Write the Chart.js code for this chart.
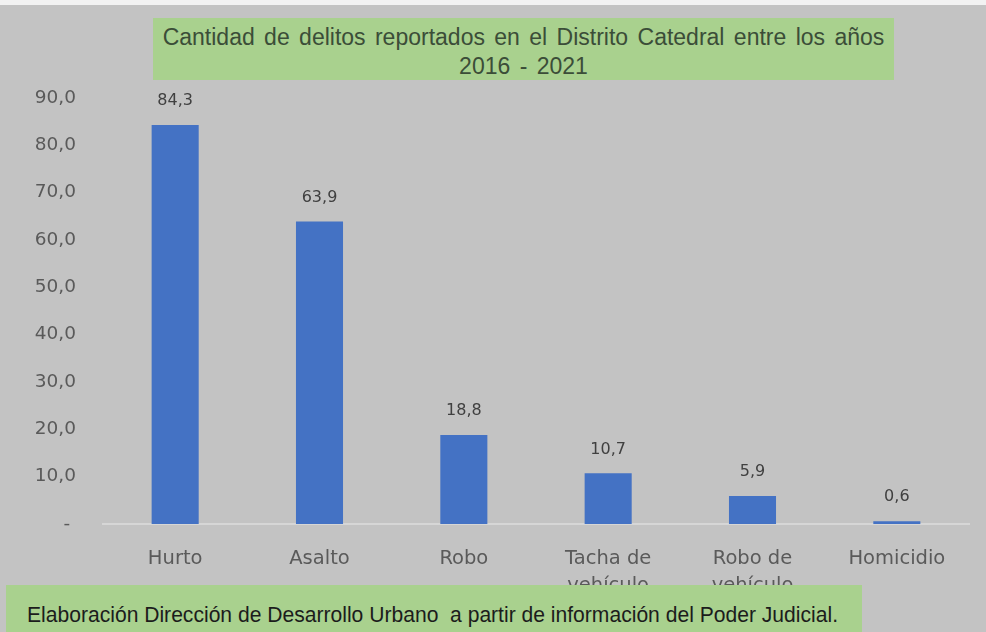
<!DOCTYPE html>
<html>
<head>
<meta charset="utf-8">
<script src="https://cdn.jsdelivr.net/npm/chart.js@4.4.0/dist/chart.umd.min.js"></script>
<style>
  html, body { margin: 0; padding: 0; }
  body { width: 986px; height: 632px; background: #c3c3c3; position: relative; overflow: hidden; }
  #topstrip { position: absolute; left: 0; top: 0; width: 986px; height: 5px; background: #f2f2f2; }
  #wrap { position: absolute; left: 0; top: 0; width: 986px; height: 632px; }
  #title { position: absolute; left: 153px; top: 18px; width: 741px; height: 62px; background: #a9d18e;
           font-family: "Liberation Sans", Arial, sans-serif; font-size: 23px; line-height: 29px;
           color: #3b4d38; text-align: center; box-sizing: border-box; padding-top: 5px; word-spacing: 3px; white-space: nowrap; }
  #footer { position: absolute; left: 6px; top: 585px; width: 856px; height: 60px; background: #a9d18e; }
  #footerText { position: absolute; left: 27px; top: 604px; white-space: nowrap; transform-origin: 0 0;
                font-family: "Liberation Sans", Arial, sans-serif; font-size: 22px; line-height: 22px; color: #1c1c1c; }
</style>
</head>
<body>
<div id="topstrip"></div>
<div id="wrap"><canvas id="c" width="986" height="632"></canvas></div>
<div id="title">Cantidad de delitos reportados en el Distrito Catedral entre los años<br>2016 - 2021</div>
<div id="footer"></div>
<span id="footerText">Elaboración Dirección de Desarrollo Urbano&nbsp; a partir de información del Poder Judicial.</span>
<script>
const categories = [["Hurto"], ["Asalto"], ["Robo"], ["Tacha de", "vehículo"], ["Robo de", "vehículo"], ["Homicidio"]];
const values = [84.3, 63.9, 18.8, 10.7, 5.9, 0.6];
const yTicks = [0, 10, 20, 30, 40, 50, 60, 70, 80, 90];

function fmt(v) { return v.toFixed(1).replace('.', ','); }

const dataLabels = {
  id: 'dataLabels',
  afterDatasetsDraw(chart) {
    const ctx = chart.ctx;
    const meta = chart.getDatasetMeta(0);
    ctx.save();
    ctx.font = '16px "DejaVu Sans"';
    ctx.fillStyle = '#404040';
    ctx.textAlign = 'center';
    ctx.textBaseline = 'middle';
    meta.data.forEach((bar, i) => {
      ctx.fillText(fmt(values[i]), bar.x, bar.y - 24);
    });
    ctx.restore();
  }
};

new Chart(document.getElementById('c'), {
  type: 'bar',
  data: {
    labels: categories,
    datasets: [{
      data: values,
      backgroundColor: '#4472c4',
      borderWidth: 0,
      barPercentage: 1,
      categoryPercentage: 0.326
    }]
  },
  options: {
    responsive: false,
    animation: false,
    devicePixelRatio: 1,
    layout: { padding: { top: 98, right: 17, bottom: 0, left: 0 } },
    plugins: { legend: { display: false }, title: { display: false }, tooltip: { enabled: false } },
    scales: {
      x: {
        grid: { display: false, drawTicks: false },
        border: { display: true, color: '#d6d6d6', width: 2 },
        ticks: { color: '#5a5a5a', font: { family: 'DejaVu Sans', size: 19.5, lineHeight: 1.35 }, padding: 22, maxRotation: 0, autoSkip: false },
        afterFit(scale) { scale.height = 108; }
      },
      y: {
        min: 0, max: 90,
        afterBuildTicks(scale) { scale.ticks = yTicks.map(v => ({ value: v })); },
        grid: { display: false, drawTicks: false },
        border: { display: false },
        ticks: {
          color: '#5a5a5a', font: { family: 'DejaVu Sans', size: 18.5 }, padding: 27,
          callback: (v) => v === 0 ? '- ' : fmt(v)
        },
        afterFit(scale) { scale.width = 103; }
      }
    }
  },
  plugins: [dataLabels]
});

const ft = document.getElementById('footerText');
const w = ft.getBoundingClientRect().width;
ft.style.transform = 'scaleX(' + (811 / w) + ')';
</script>
</body>
</html>
